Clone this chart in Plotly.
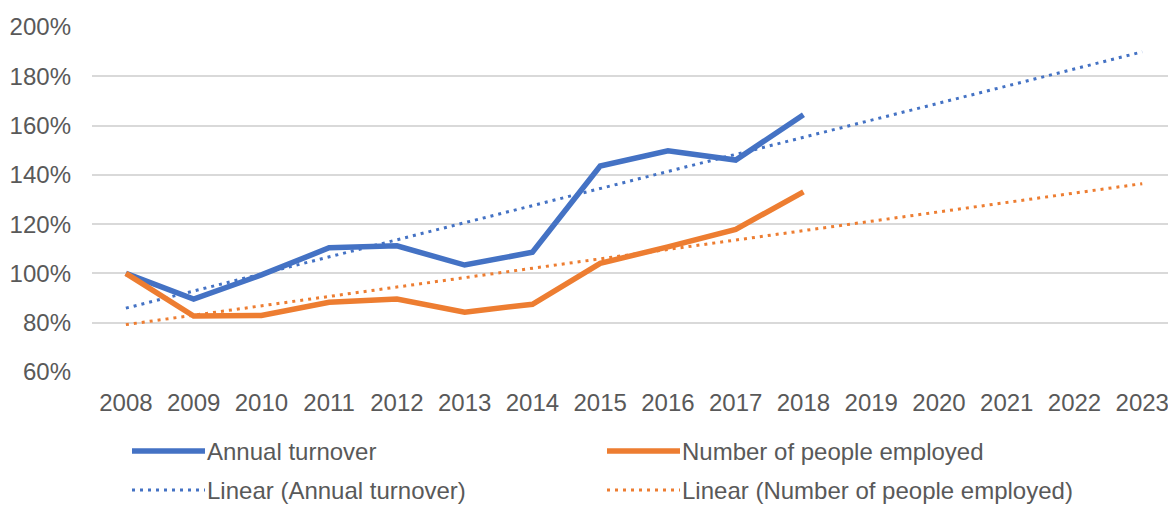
import numpy as np
import plotly.graph_objects as go

years = [str(y) for y in range(2008, 2024)]
data_years = years[:11]
annual_turnover = [100, 89.6, 99.4, 110.4, 111.2, 103.4, 108.6, 143.6, 149.8, 146.0, 164.4]
people_employed = [100, 82.7, 82.9, 88.3, 89.6, 84.3, 87.5, 104.1, 110.8, 117.9, 133.1]
y_ticks = [60, 80, 100, 120, 140, 160, 180, 200]
y_tick_labels = ["60%", "80%", "100%", "120%", "140%", "160%", "180%", "200%"]

BLUE = "#4472C4"
ORANGE = "#ED7D31"
TEXT = "#595959"
FONT = "Liberation Sans, Arial, sans-serif"


def linear_trend(values, n_total):
    idx = np.arange(len(values))
    slope, intercept = np.polyfit(idx, values, 1)
    return list(intercept + slope * np.arange(n_total))


trend_turnover = linear_trend(annual_turnover, len(years))
trend_employed = linear_trend(people_employed, len(years))

fig = go.Figure()
fig.add_trace(go.Scatter(x=years, y=trend_turnover, mode="lines", name="Linear (Annual turnover)",
                         line=dict(color=BLUE, width=3, dash="3px,5px"), showlegend=False))
fig.add_trace(go.Scatter(x=years, y=trend_employed, mode="lines", name="Linear (Number of people employed)",
                         line=dict(color=ORANGE, width=3, dash="3px,5px"), showlegend=False))
fig.add_trace(go.Scatter(x=data_years, y=annual_turnover, mode="lines", name="Annual turnover",
                         line=dict(color=BLUE, width=5.5), showlegend=False))
fig.add_trace(go.Scatter(x=data_years, y=people_employed, mode="lines", name="Number of people employed",
                         line=dict(color=ORANGE, width=5.5), showlegend=False))

# Manual legend (2 columns x 2 rows) below the plot
plot_left, plot_w, plot_bottom, plot_h = 92, 1076, 372, 345


def px_x(p):
    return (p - plot_left) / plot_w


def px_y(p):
    return (plot_bottom - p) / plot_h


legend_items = [
    ("Annual turnover", BLUE, "solid", 132, 451),
    ("Number of people employed", ORANGE, "solid", 607, 451),
    ("Linear (Annual turnover)", BLUE, "dot", 132, 490),
    ("Linear (Number of people employed)", ORANGE, "dot", 607, 490),
]
for label, color, style, x0, yc in legend_items:
    if style == "solid":
        line = dict(color=color, width=5.5)
    else:
        line = dict(color=color, width=3, dash="3px,5px")
    fig.add_shape(type="line", xref="paper", yref="paper",
                  x0=px_x(x0), x1=px_x(x0 + 73), y0=px_y(yc), y1=px_y(yc), line=line)
    fig.add_annotation(xref="paper", yref="paper", x=px_x(x0 + 74), y=px_y(yc),
                       text=label, showarrow=False, xanchor="left", yanchor="middle",
                       borderpad=0, font=dict(family=FONT, size=24, color=TEXT))

fig.update_layout(
    width=1168, height=505,
    margin=dict(l=92, r=0, t=27, b=133),
    paper_bgcolor="white", plot_bgcolor="white",
    font=dict(family=FONT, size=24, color=TEXT),
    showlegend=False,
)
fig.update_xaxes(type="category", categoryorder="array", categoryarray=years,
                 range=[-0.5, 15.38], showgrid=False, zeroline=False,
                 showline=False, ticks="", ticklabelstandoff=14,
                 tickfont=dict(family=FONT, size=24, color=TEXT))
fig.update_yaxes(range=[60, 200], tickmode="array", tickvals=y_ticks, ticktext=y_tick_labels,
                 showgrid=True, gridcolor="#D9D9D9", gridwidth=1.5,
                 zeroline=False, showline=False, ticks="", ticklabelstandoff=20,
                 tickfont=dict(family=FONT, size=24, color=TEXT))

fig.write_html("out.html", config={"displayModeBar": False},
               post_script="document.body.style.margin='0px';")
